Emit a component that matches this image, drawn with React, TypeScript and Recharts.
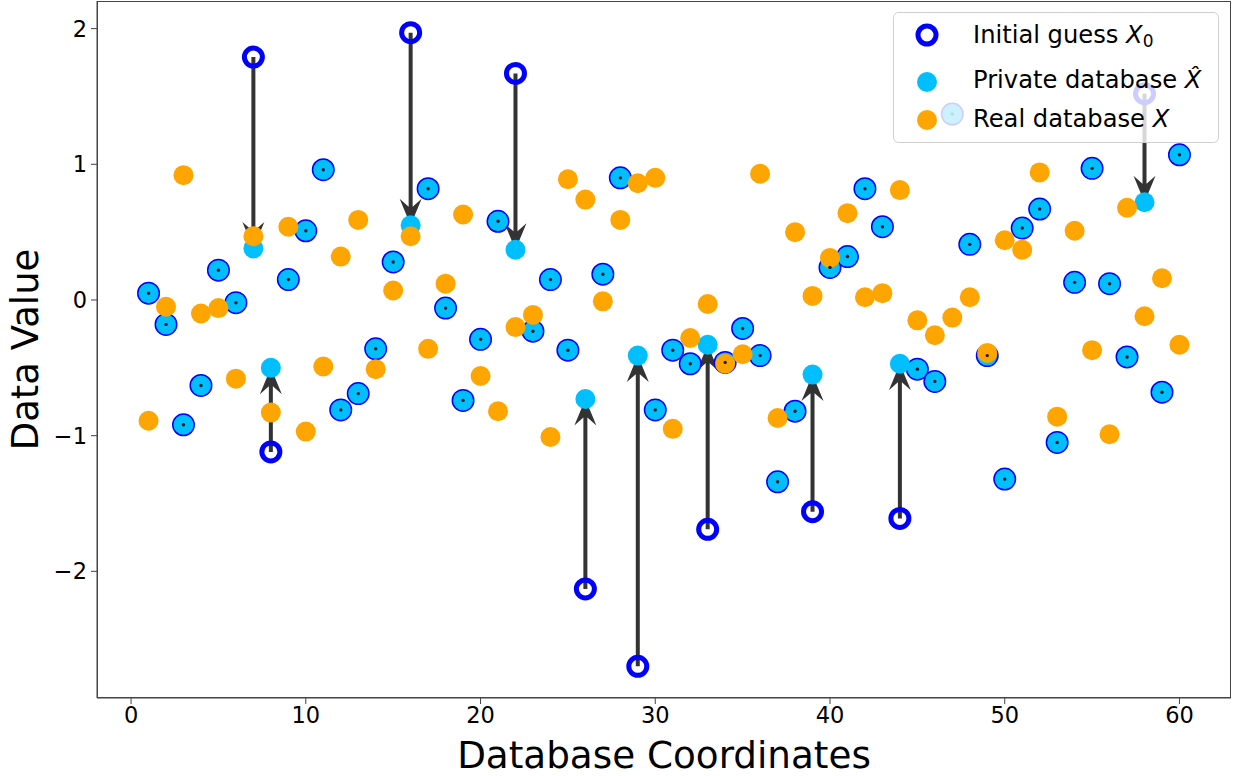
import { ScatterChart, Scatter, XAxis, YAxis, ReferenceLine, Label } from 'recharts';

const coordinates = [
  1, 2, 3, 4, 5, 6, 7, 8, 9, 10, 11, 12, 13, 14, 15, 16, 17, 18, 19, 20,
  21, 22, 23, 24, 25, 26, 27, 28, 29, 30, 31, 32, 33, 34, 35, 36, 37, 38, 39, 40,
  41, 42, 43, 44, 45, 46, 47, 48, 49, 50, 51, 52, 53, 54, 55, 56, 57, 58, 59, 60,
];

const initialGuess = [
  0.05, -0.18, -0.92, -0.63, 0.22, -0.02, 1.79, -1.12, 0.15, 0.51,
  0.96, -0.81, -0.69, -0.36, 0.28, 1.97, 0.82, -0.06, -0.74, -0.29,
  0.58, 1.67, -0.23, 0.15, -0.37, -2.13, 0.19, 0.9, -2.7, -0.81,
  -0.37, -0.47, -1.69, -0.46, -0.21, -0.41, -1.34, -0.82, -1.56, 0.24,
  0.32, 0.82, 0.54, -1.61, -0.51, -0.6, 1.37, 0.41, -0.41, -1.32,
  0.53, 0.67, -1.05, 0.13, 0.97, 0.12, -0.42, 1.52, -0.68, 1.07,
];

const privateDb = [
  0.05, -0.18, -0.92, -0.63, 0.22, -0.02, 0.38, -0.5, 0.15, 0.51,
  0.96, -0.81, -0.69, -0.36, 0.28, 0.55, 0.82, -0.06, -0.74, -0.29,
  0.58, 0.37, -0.23, 0.15, -0.37, -0.73, 0.19, 0.9, -0.41, -0.81,
  -0.37, -0.47, -0.33, -0.46, -0.21, -0.41, -1.34, -0.82, -0.55, 0.24,
  0.32, 0.82, 0.54, -0.47, -0.51, -0.6, 1.37, 0.41, -0.41, -1.32,
  0.53, 0.67, -1.05, 0.13, 0.97, 0.12, -0.42, 0.72, -0.68, 1.07,
];

const realDb = [
  -0.89, -0.05, 0.92, -0.1, -0.06, -0.58, 0.47, -0.83, 0.54, -0.97,
  -0.49, 0.32, 0.59, -0.51, 0.07, 0.47, -0.36, 0.12, 0.63, -0.56,
  -0.82, -0.2, -0.11, -1.01, 0.89, 0.74, -0.01, 0.59, 0.86, 0.9,
  -0.95, -0.28, -0.03, -0.47, -0.4, 0.93, -0.87, 0.5, 0.03, 0.31,
  0.64, 0.02, 0.05, 0.81, -0.15, -0.26, -0.13, 0.02, -0.39, 0.44,
  0.37, 0.94, -0.86, 0.51, -0.37, -0.99, 0.68, -0.12, 0.16, -0.33,
];

const xTicks = [0, 10, 20, 30, 40, 50, 60];
const yTicks = [-2, -1, 0, 1, 2];

const FONT = '"DejaVu Sans", sans-serif';
const BLUE = '#0000ff';
const CYAN = '#00bfff';
const ORANGE = '#ffa500';

// matplotlib-style 5% autoscale margins
const pad = (vals: number[]) => {
  const lo = Math.min(...vals);
  const hi = Math.max(...vals);
  const m = (hi - lo) * 0.05;
  return [lo - m, hi + m];
};
const xDomain = pad(coordinates);
const yDomain = pad([...initialGuess, ...privateDb, ...realDb]);

const toPoints = (vals: number[]) => vals.map((v, i) => ({ x: coordinates[i], y: v }));
const initialPts = toPoints(initialGuess);
const privatePts = toPoints(privateDb);
const realPts = toPoints(realDb);
// zero-length arrows (guess already equal to private value) show up as tiny dots
const stayPts = privatePts.filter((_, i) => initialGuess[i] === privateDb[i]);
const movedIdx = coordinates.map((_, i) => i).filter((i) => initialGuess[i] !== privateDb[i]);

const fmt = (v: number) => (v < 0 ? `\u2212${Math.abs(v)}` : `${v}`);

const Ring = (p: any) => (
  <circle cx={p.cx} cy={p.cy} r={9} fill="none" stroke={BLUE} strokeWidth={5} />
);
const CyanDot = (p: any) => <circle cx={p.cx} cy={p.cy} r={10} fill={CYAN} />;
const OrangeDot = (p: any) => <circle cx={p.cx} cy={p.cy} r={10} fill={ORANGE} />;
const TinyDot = (p: any) => <circle cx={p.cx} cy={p.cy} r={1.7} fill="#000" fillOpacity={0.85} />;

// FancyArrow-like polygon from (x1,y1) to tip at (x2,y2)
const Arrow = (p: any) => {
  const { x1, y1, x2, y2 } = p;
  const dx = x2 - x1;
  const dy = y2 - y1;
  const len = Math.hypot(dx, dy) || 1;
  const ux = dx / len, uy = dy / len;
  const nx = -uy, ny = ux;
  const headLen = 26.5, headHalf = 11, shaftHalf = 2, overhang = 0.3;
  const bx = x2 - ux * headLen, by = y2 - uy * headLen;
  const jx = x2 - ux * headLen * (1 - overhang), jy = y2 - uy * headLen * (1 - overhang);
  const pts = [
    [x1 + nx * shaftHalf, y1 + ny * shaftHalf],
    [jx + nx * shaftHalf, jy + ny * shaftHalf],
    [bx + nx * headHalf, by + ny * headHalf],
    [x2, y2],
    [bx - nx * headHalf, by - ny * headHalf],
    [jx - nx * shaftHalf, jy - ny * shaftHalf],
    [x1 - nx * shaftHalf, y1 - ny * shaftHalf],
  ];
  return (
    <polygon points={pts.map((q) => q.join(',')).join(' ')} fill="#000" fillOpacity={0.8} />
  );
};

const tickStyle = { fill: '#000', fontSize: 22.5, fontFamily: FONT };

export default function App() {
  return (
    <div style={{ position: 'relative', width: 1233, height: 776, background: '#fff' }}>
      <style>{'body{margin:0}'}</style>
      <ScatterChart width={1233} height={776} margin={{ top: 1, right: 2, left: 0, bottom: 0 }}>
        <XAxis
          type="number"
          dataKey="x"
          domain={xDomain}
          allowDataOverflow
          ticks={xTicks}
          height={78}
          tick={tickStyle}
          tickSize={6}
          tickMargin={3}
          stroke="#444"
        >
          <Label
            content={(lp: any) => (
              <text
                x={lp.viewBox.x + lp.viewBox.width / 2}
                y={lp.viewBox.y + 70}
                textAnchor="middle"
                fontSize={37.3}
                fontFamily={FONT}
                fill="#000"
              >
                Database Coordinates
              </text>
            )}
          />
        </XAxis>
        <YAxis
          type="number"
          dataKey="y"
          domain={yDomain}
          allowDataOverflow
          ticks={yTicks}
          width={97}
          tick={tickStyle}
          tickSize={6}
          tickMargin={4}
          tickFormatter={fmt}
          stroke="#444"
        >
          <Label
            content={(lp: any) => {
              const cx = lp.viewBox.x + 38;
              const cy = lp.viewBox.y + lp.viewBox.height / 2;
              return (
                <text
                  x={cx}
                  y={cy}
                  transform={`rotate(-90, ${cx}, ${cy})`}
                  textAnchor="middle"
                  fontSize={37}
                  fontFamily={FONT}
                  fill="#000"
                >
                  Data Value
                </text>
              );
            }}
          />
        </YAxis>
        <Scatter name="Initial guess" data={initialPts} shape={Ring} isAnimationActive={false} />
        <Scatter name="Private database" data={privatePts} shape={CyanDot} isAnimationActive={false} />
        <Scatter name="Real database" data={realPts} shape={OrangeDot} isAnimationActive={false} />
        <Scatter name="No move" data={stayPts} shape={TinyDot} isAnimationActive={false} legendType="none" />
        {movedIdx.map((i) => (
          <ReferenceLine
            key={coordinates[i]}
            segment={[
              { x: coordinates[i], y: initialGuess[i] },
              { x: coordinates[i], y: privateDb[i] },
            ]}
            ifOverflow="visible"
            shape={Arrow}
          />
        ))}
      </ScatterChart>
      <div
        style={{
          position: 'absolute', left: 97, top: 1, width: 1134, height: 697,
          border: '1px solid #444', boxSizing: 'border-box', pointerEvents: 'none',
        }}
      />
      <svg
        width={327}
        height={132}
        style={{ position: 'absolute', left: 893, top: 12 }}
        fontFamily={FONT}
        fontSize={24.2}
      >
        <rect x={0.5} y={0.5} width={325} height={130} rx={5} fill="#fff" fillOpacity={0.8} stroke="#cfcfcf" />
        <circle cx={34} cy={23} r={9} fill="none" stroke={BLUE} strokeWidth={5} />
        <circle cx={34} cy={70} r={10} fill={CYAN} />
        <circle cx={34} cy={108} r={10} fill={ORANGE} />
        <text x={80} y={31} fill="#000">
          Initial guess <tspan fontStyle="italic">X</tspan>
          <tspan fontSize={17} dy={4}>0</tspan>
        </text>
        <text x={80} y={76} fill="#000">
          Private database <tspan fontStyle="italic">{'X\u0302'}</tspan>
        </text>
        <text x={80} y={115} fill="#000">
          Real database <tspan fontStyle="italic">X</tspan>
        </text>
      </svg>
    </div>
  );
}
